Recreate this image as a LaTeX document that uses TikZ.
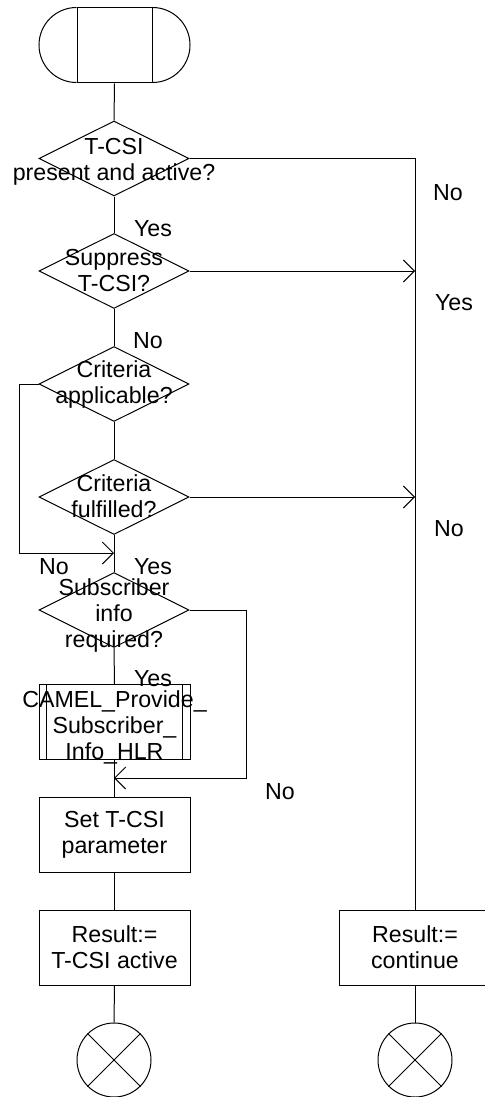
\documentclass[tikz,border=0pt]{standalone}
\usepackage{fontspec}
\setmainfont{Liberation Sans}
\usetikzlibrary{shapes.geometric,arrows.meta}
\tikzset{
  every node/.style={font=\fontsize{11.6pt}{13pt}\selectfont},
  ln/.style={draw=black,line width=0.5pt},
  dia/.style={ln,diamond,aspect=2,minimum width=75pt,minimum height=37.5pt,inner sep=0pt},
  box/.style={ln,rectangle,minimum width=75.5pt,minimum height=37.5pt,inner sep=0pt},
  txt/.style={align=center,inner sep=0pt},
  lbl/.style={inner sep=0pt},
  endc/.style={ln,circle,minimum size=37pt,inner sep=0pt},
  arr/.style={ln,-{Straight Barb[length=5.5pt,width=11pt]}}
}
\begin{document}
\begin{tikzpicture}[x=0.5pt,y=-0.5pt]
\useasboundingbox (0,0) rectangle (484,1097);
% start symbol
\node[box,minimum width=37.5pt] (start) at (114.5,45.5) {};
\draw[ln] (start.north west) arc[start angle=90,end angle=270,radius=18.75pt];
\draw[ln] (start.north east) arc[start angle=90,end angle=-90,radius=18.75pt];
% decisions
\node[dia] (d1) at (114,158.5) {};
\node[txt] at (114,161.5) {T-CSI\\present and active?};
\node[dia] (d2) at (114,271) {};
\node[txt] at (114,271) {Suppress\\T-CSI?};
\node[dia] (d3) at (114,384) {};
\node[txt] at (114,384) {Criteria\\applicable?};
\node[dia] (d4) at (114,497) {};
\node[txt] at (114,496) {Criteria\\fulfilled?};
\node[dia] (d5) at (114,610) {};
\node[txt] at (114,615) {Subscriber\\info\\required?};
% procedure
\node[box] (proc) at (114.5,722) {};
\draw[ln] ([xshift=4pt]proc.north west) -- ([xshift=4pt]proc.south west);
\draw[ln] ([xshift=-4pt]proc.north east) -- ([xshift=-4pt]proc.south east);
\node[txt] at (114.5,727.5) {CAMEL\_Provide\_\\Subscriber\_\\Info\_HLR};
% tasks
\node[box,align=center] (set) at (114.5,835) {Set T-CSI\\parameter};
\node[box,align=center] (res1) at (114.5,947.5) {Result:=\\T-CSI active};
\node[box,align=center] (res2) at (415,947.5) {Result:=\\continue};
% ends
\node[endc] (e1) at (114,1060) {};
\draw[ln] (e1.north west) -- (e1.south east) (e1.north east) -- (e1.south west);
\node[endc] (e2) at (415,1060) {};
\draw[ln] (e2.north west) -- (e2.south east) (e2.north east) -- (e2.south west);
% connectors
\draw[ln] (start.south) -- (d1.north);
\draw[ln] (d1.south) -- (d2.north);
\draw[ln] (d2.south) -- (d3.north);
\draw[ln] (d3.south) -- (d4.north);
\draw[ln] (d4.south) -- (d5.north);
\draw[ln] (d5.south) -- (proc.north);
\draw[ln] (proc.south) -- (set.north);
\draw[ln] (set.south) -- (res1.north);
\draw[ln] (res1.south) -- (e1.north);
\draw[ln] (res2.south) -- (e2.north);
\draw[ln] (d1.east) -| (res2.north);
\draw[arr] (d2.east) -- (d2.east -| res2.north);
\draw[arr] (d4.east) -- (d4.east -| res2.north);
\coordinate (j1) at (114,553);
\draw[arr] (d3.west) -- ++(-19,0) |- (j1);
\coordinate (j2) at (114,778);
\draw[arr] (d5.east) -- ++(57,0) |- (j2);
% labels
\node[lbl] at (448,193) {No};
\node[lbl] at (153,229) {Yes};
\node[lbl] at (454,303) {Yes};
\node[lbl] at (148,341) {No};
\node[lbl] at (449,529) {No};
\node[lbl] at (54,567) {No};
\node[lbl] at (153,567) {Yes};
\node[lbl] at (153,679) {Yes};
\node[lbl] at (280,792) {No};
\end{tikzpicture}
\end{document}
